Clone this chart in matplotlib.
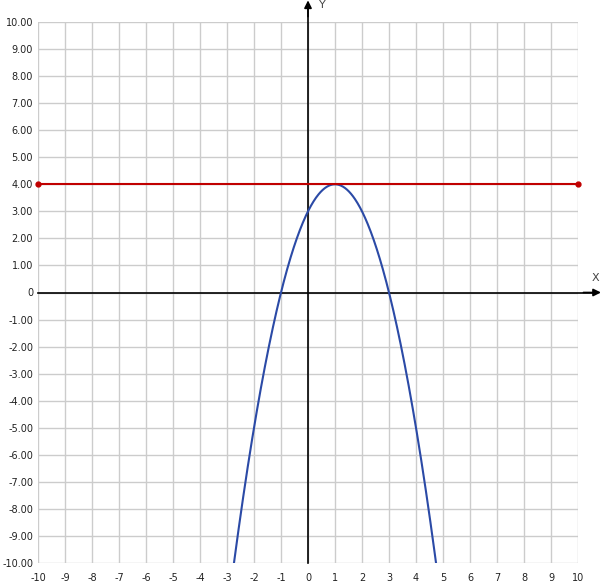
import numpy as np
import matplotlib
matplotlib.use("Agg")
import matplotlib.pyplot as plt

# Data
x_ticks = list(range(-10, 11))
y_ticks = list(range(-10, 11))
x_tick_labels = [str(v) for v in x_ticks]
y_tick_labels = ["0" if v == 0 else f"{v:.2f}" for v in y_ticks]
parabola_coeffs = [-1.0, 2.0, 3.0]   # y = a x^2 + b x + c
parabola_x_range = [-2.74, 4.74]
line_x = [-10, 10]
line_y = [4, 4]

W, H = 602, 586
fig = plt.figure(figsize=(W / 100, H / 100), dpi=100)
left, right, top, bottom = 38, 578, 22, 563
ax = fig.add_axes([left / W, (H - bottom) / H, (right - left) / W, (bottom - top) / H])
ax.set_xlim(-10, 10)
ax.set_ylim(-10, 10)
for s in ax.spines.values():
    s.set_visible(False)
ax.set_xticks(x_ticks)
ax.set_yticks(y_ticks)
ax.set_xticklabels(x_tick_labels)
ax.set_yticklabels(y_tick_labels)
ax.tick_params(length=0, labelsize=7, colors="#222222", pad=7)
ax.tick_params(axis="y", pad=3.5)
ax.grid(True, color="#cccccc", linewidth=1.0)
ax.set_axisbelow(True)

# axes with arrows
ax.plot([0, 0], [-10, 10.5], color="black", lw=1.2, clip_on=False, zorder=3)
ax.annotate("", xy=(0, 10.8), xytext=(0, 10.2), xycoords="data",
            arrowprops=dict(arrowstyle="-|>", color="black", lw=1.2,
                            mutation_scale=11, shrinkA=0, shrinkB=0),
            annotation_clip=False, zorder=3)
ax.plot([-10, 10.5], [0, 0], color="black", lw=1.2, clip_on=False, zorder=3)
ax.annotate("", xy=(10.85, 0), xytext=(10.2, 0), xycoords="data",
            arrowprops=dict(arrowstyle="-|>", color="black", lw=1.2,
                            mutation_scale=11, shrinkA=0, shrinkB=0),
            annotation_clip=False, zorder=3)
ax.text(0.52, 10.62, "Y", fontsize=8, color="#444444", ha="center", va="center", clip_on=False)
ax.text(10.65, 0.55, "X", fontsize=8, color="#444444", ha="center", va="center", clip_on=False)

# curves
a, b, c = parabola_coeffs
xs = np.linspace(parabola_x_range[0], parabola_x_range[1], 400)
ax.plot(xs, a * xs**2 + b * xs + c, color="#2b4aa6", lw=1.5, zorder=4)
ax.plot(line_x, line_y, color="#c00000", lw=1.5, marker="o", markersize=3.5,
        clip_on=False, zorder=5)

fig.savefig("out.png", dpi=100, facecolor="white")
